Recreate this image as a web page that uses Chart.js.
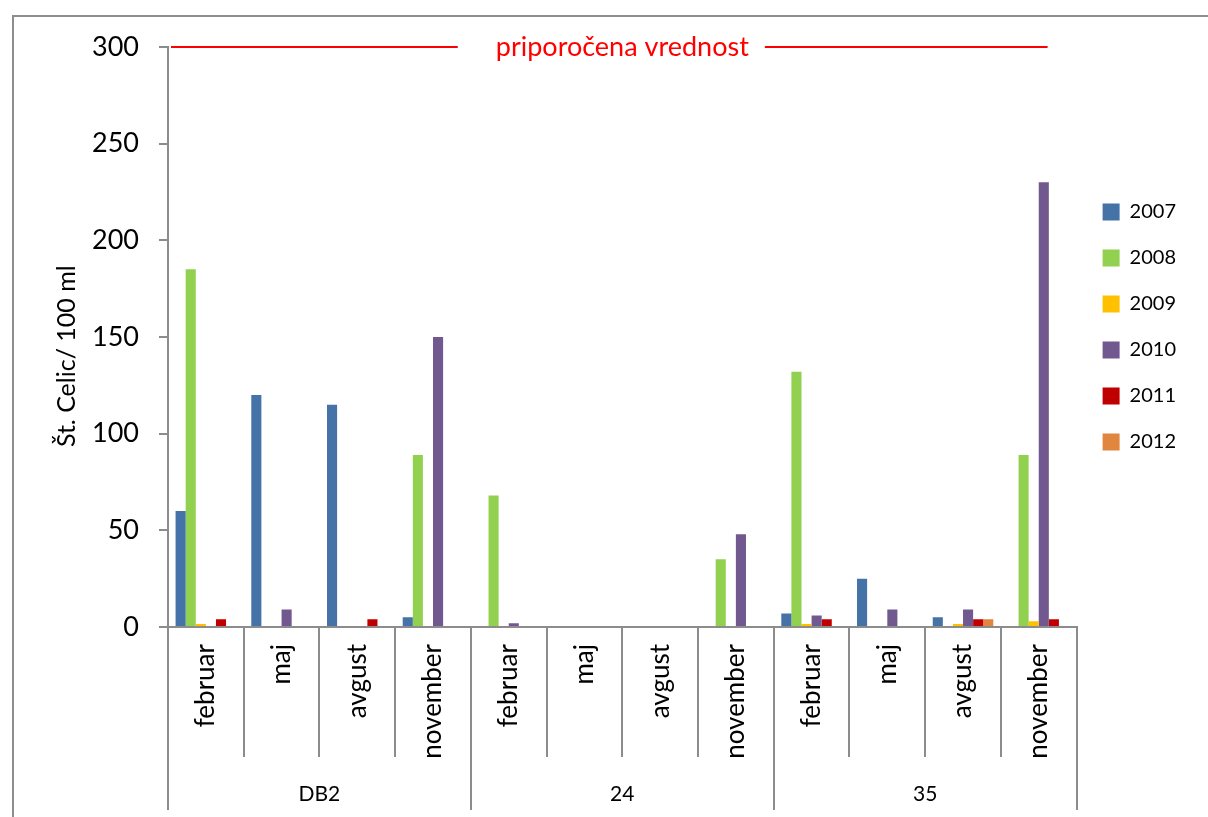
<!DOCTYPE html>
<html>
<head>
<meta charset="utf-8">
<script src="https://cdn.jsdelivr.net/npm/chart.js@4"></script>
<style>
  html, body { margin: 0; padding: 0; background: #fff; overflow: hidden; }
  #frame { position: absolute; left: 12px; top: 15px; width: 1400px; height: 1000px; border: 2px solid #8e8e8e; box-sizing: border-box; }
  #wrap { position: absolute; left: 0; top: 0; width: 1208px; height: 817px; }
</style>
</head>
<body>
<div id="frame"></div>
<div id="wrap"><canvas id="myChart"></canvas></div>
<script>
// months inside each sampling point
const months = ["februar", "maj", "avgust", "november"];
const sites = ["DB2", "24", "35"];
const years = ["2007", "2008", "2009", "2010", "2011", "2012"];

// one value per site/month (DB2 x4, 24 x4, 35 x4)
const values2007 = [60, 120, 115, 5, 0, 0, 0, 0, 7, 25, 5, 0];
const values2008 = [185, 0, 0, 89, 68, 0, 0, 35, 132, 0, 0, 89];
const values2009 = [1.5, 0, 0, 0.5, 0.5, 0, 0, 0, 1.5, 0, 1.5, 3];
const values2010 = [0, 9, 0, 150, 2, 0, 0, 48, 6, 9, 9, 230];
const values2011 = [4, 0, 4, 0, 0, 0, 0, 0, 4, 0, 4, 4];
const values2012 = [0, 0, 0, 0, 0, 0, 0, 0, 0, 0, 4, 0];

const yTicks = [0, 50, 100, 150, 200, 250, 300];
const recommended = 300;
const recommendedLabel = "priporočena vrednost";

const colors = ["#4572A7", "#92D050", "#FFC000", "#71588F", "#C00000", "#E0863E"];
const allValues = [values2007, values2008, values2009, values2010, values2011, values2012];

const labels = [];
sites.forEach(function() {
  months.forEach(function(m) { labels.push(m); });
});

const datasets = years.map(function(year, i) {
  return {
    label: year,
    data: allValues[i],
    backgroundColor: colors[i],
    borderWidth: 0,
    categoryPercentage: 0.8,
    barPercentage: 1.0
  };
});

const axisGray = "#8c8c8c";

const refLine = {
  id: "refLine",
  afterDatasetsDraw(chart) {
    const ctx = chart.ctx;
    const area = chart.chartArea;
    const y = chart.scales.y.getPixelForValue(recommended);
    ctx.save();
    ctx.font = "27px Lato";
    const w = ctx.measureText(recommendedLabel).width;
    const cx = (area.left + area.right) / 2;
    ctx.strokeStyle = "#ff0000";
    ctx.lineWidth = 2;
    ctx.beginPath();
    ctx.moveTo(area.left + 3, y);
    ctx.lineTo(cx - w / 2 - 38, y);
    ctx.moveTo(cx + w / 2 + 16, y);
    ctx.lineTo(area.right - 29, y);
    ctx.stroke();
    ctx.fillStyle = "#ff0000";
    ctx.textAlign = "center";
    ctx.textBaseline = "middle";
    ctx.fillText(recommendedLabel, cx, y);
    ctx.restore();
  }
};

new Chart("myChart", {
  type: "bar",
  data: { labels: labels, datasets: datasets },
  plugins: [refLine],
  options: {
    responsive: true,
    maintainAspectRatio: false,
    animation: false,
    layout: { padding: { top: 47, left: 0, right: 22, bottom: 0 } },
    plugins: {
      tooltip: { enabled: false },
      legend: {
        position: "right",
        fullSize: false,
        align: "start",
        title: { display: true, text: "", font: { size: 20 }, padding: { top: 105, bottom: 0 } },
        labels: {
          boxWidth: 17,
          boxHeight: 17,
          padding: 26,
          color: "#000",
          font: { family: "Lato", size: 20 }
        }
      }
    },
    scales: {
      x: {
        position: "bottom",
        grid: { offset: true, drawOnChartArea: false, tickLength: 130, color: axisGray, lineWidth: 2 },
        border: { color: axisGray, width: 2 },
        ticks: {
          minRotation: 90, maxRotation: 90, autoSkip: false,
          padding: -113, color: "#000",
          font: { family: "Lato", size: 26 }
        },
        afterFit: function(scale) { scale.height = 130; }
      },
      x2: {
        type: "category",
        position: "bottom",
        labels: sites,
        offset: true,
        grid: { offset: true, drawOnChartArea: false, tickLength: 53, color: axisGray, lineWidth: 2 },
        border: { display: false },
        ticks: { padding: -28, color: "#000", font: { family: "Lato", size: 21 } },
        afterFit: function(scale) { scale.height = 60; }
      },
      y: {
        min: 0,
        max: 300,
        afterBuildTicks: function(scale) {
          scale.ticks = yTicks.map(function(v) { return { value: v }; });
        },
        grid: { drawOnChartArea: false, tickLength: 9, color: axisGray, lineWidth: 2 },
        border: { color: axisGray, width: 2 },
        ticks: { padding: 20, color: "#000", font: { family: "Lato", size: 27 } },
        title: {
          display: true,
          text: "Št. Celic/ 100 ml\u00a0\u00a0\u00a0\u00a0\u00a0\u00a0",
          color: "#000",
          font: { family: "Lato", size: 25 },
          padding: { top: 52, bottom: 0 }
        },
        afterFit: function(scale) { scale.width = 168; }
      }
    }
  }
});
</script>
</body>
</html>
